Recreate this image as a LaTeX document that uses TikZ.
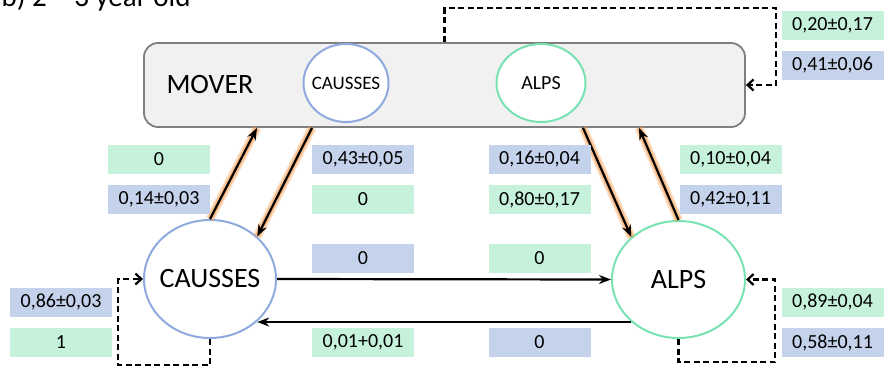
\documentclass[tikz,border=0pt]{standalone}
\usepackage{fontspec}
\setmainfont{Carlito}
\usetikzlibrary{arrows.meta,shapes.geometric}

\definecolor{boxgray}{RGB}{241,241,241}
\definecolor{boxline}{RGB}{127,127,127}
\definecolor{causblue}{RGB}{143,170,220}
\definecolor{alpsgreen}{RGB}{120,226,178}
\definecolor{labgreen}{RGB}{198,242,220}
\definecolor{labblue}{RGB}{197,210,235}
\definecolor{glowc}{RGB}{244,150,70}

\tikzset{
  lab/.style={minimum width=102pt, minimum height=29pt, inner sep=0pt,
    font=\fontsize{20}{24}\selectfont},
  region/.style={ellipse, draw, line width=2pt, fill=white, inner sep=-6pt},
  flow/.style={line width=2.2pt, -{Stealth[length=12pt,width=9pt]}},
  glow/.style={flow,
    preaction={draw=glowc, line width=9pt, opacity=0.3, -},
    preaction={draw=glowc, line width=5.5pt, opacity=0.5, -}},
  stay/.style={line width=2.2pt, dash pattern=on 6pt off 3.5pt,
    -{Straight Barb[length=6pt,width=11pt]}},
}

\begin{document}
\begin{tikzpicture}[x=1pt,y=-1pt]
  \useasboundingbox (0,0) rectangle (885,367);

  \node[anchor=base west, font=\fontsize{29}{34}\selectfont] (title) at (-2,6) {b) 2 – 3 year old};

  % habitats
  \node[draw=boxline, fill=boxgray, line width=1.8pt, rounded corners=14pt,
    minimum width=601pt, minimum height=84pt] (mover) at (444.5,85) {};
  \node[font=\fontsize{28}{32}\selectfont] (movertxt) at (210,85) {MOVER};
  \node[region, draw=causblue, minimum width=85pt, minimum height=78pt,
    font=\fontsize{19}{22}\selectfont] (cm) at (346,83) {CAUSSES};
  \node[region, draw=alpsgreen, minimum width=89pt, minimum height=78pt,
    font=\fontsize{20}{22}\selectfont] (am) at (541,83) {ALPS};

  \node[region, draw=causblue, minimum width=132pt, minimum height=118pt,
    font=\fontsize{28}{32}\selectfont] (cb) at (210,279) {CAUSSES};
  \node[region, draw=alpsgreen, minimum width=133pt, minimum height=117pt,
    font=\fontsize{28}{32}\selectfont] (ab) at (678.5,279.5) {ALPS};

  % transitions
  \draw[glow] (cb.north) -- ([xshift=47pt]cb.north |- mover.south);
  \draw[glow] ([xshift=102pt]cb.north |- mover.south) -- (cb.42);
  \draw[glow] ([xshift=-95.5pt]ab.north |- mover.south) -- (ab.138);
  \draw[glow] (ab.north) -- ([xshift=-39.5pt]ab.north |- mover.south);

  \draw[flow] (cb.east) -- (ab.west);
  \draw[flow] (ab.222) -- (ab.222 -| cb.318);

  \draw[stay] (cb.south) -- ++(0,26) -| ([xshift=-25pt]cb.west) -- (cb.west);
  \draw[stay] (ab.south) -- ++(0,23) -| ([xshift=29pt]ab.east) -- (ab.east);
  \draw[stay] (mover.north) -- ++(0,-34) -| ([xshift=30pt]mover.east) -- (mover.east);

  % rates
  \begin{scope}[every node/.style={lab}]
    \node[fill=labgreen] (cup1) at (159,159.5) {0};
    \node[fill=labblue] (cup2) at (159,199.5) {0,14±0,03};
    \node[fill=labblue] (cdn1) at (363,159.5) {0,43±0,05};
    \node[fill=labgreen] (cdn2) at (363,199.5) {0};
    \node[fill=labblue] (adn1) at (539.5,159.5) {0,16±0,04};
    \node[fill=labgreen] (adn2) at (539.5,199.5) {0,80±0,17};
    \node[fill=labgreen] (aup1) at (730.5,159.5) {0,10±0,04};
    \node[fill=labblue] (aup2) at (730.5,199.5) {0,42±0,11};
    \node[fill=labblue] (ca1) at (363,258.5) {0};
    \node[fill=labgreen] (ca2) at (539.5,258.5) {0};
    \node[fill=labgreen] (ac1) at (363,342.5) {0,01+0,01};
    \node[fill=labblue] (ac2) at (539.5,342.5) {0};
    \node[fill=labblue] (cc1) at (61,302) {0,86±0,03};
    \node[fill=labgreen] (cc2) at (61,342.5) {1};
    \node[fill=labgreen] (aa1) at (832.5,302) {0,89±0,04};
    \node[fill=labblue] (aa2) at (832.5,342.5) {0,58±0,11};
    \node[fill=labgreen] (mm1) at (832.5,25) {0,20±0,17};
    \node[fill=labblue] (mm2) at (832.5,65.5) {0,41±0,06};
  \end{scope}

\end{tikzpicture}
\end{document}
